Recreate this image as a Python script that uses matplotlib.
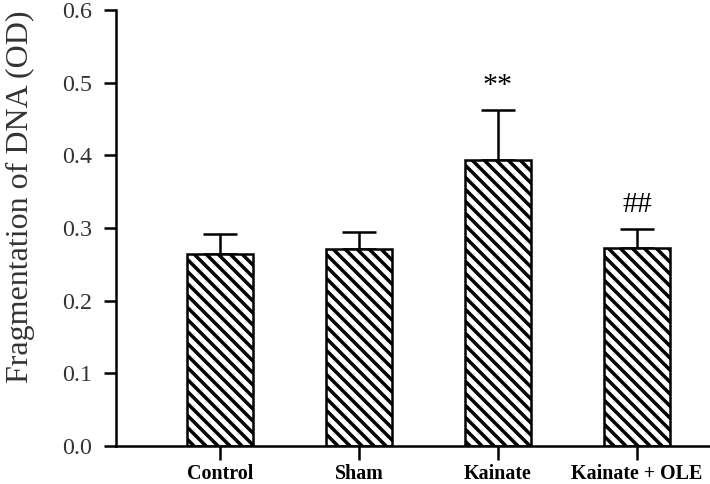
import matplotlib.pyplot as plt

groups = ["Control", "Sham", "Kainate", "Kainate + OLE"]
means = [0.264, 0.271, 0.393, 0.272]
sems = [0.028, 0.023, 0.069, 0.027]
marks = ["", "", "**", "##"]
y_ticks = [0.0, 0.1, 0.2, 0.3, 0.4, 0.5, 0.6]

DPI = 72
plt.rcParams['font.family'] = ['Liberation Serif', 'DejaVu Serif']
plt.rcParams['hatch.linewidth'] = 3.5

fig = plt.figure(figsize=(710 / DPI, 484 / DPI), dpi=DPI)
ax = fig.add_axes([116 / 710, 38 / 484, 1 - 116 / 710, 436 / 484])

x = list(range(len(groups)))
ax.errorbar(x, means, yerr=[[0] * len(sems), sems], fmt='none', ecolor='black',
            elinewidth=2.5, capsize=17, capthick=2.5, zorder=1)
ax.bar(x, means, width=0.48, color='white', edgecolor='black', linewidth=2.5,
       hatch='\\\\', zorder=2)

for xi, m, s, t in zip(x, means, sems, marks):
    if t:
        ax.annotate(t, (xi, m + s), xytext=(0, 11), textcoords='offset points',
                    ha='center', va='bottom', fontsize=30)

ax.set_xlim(-0.748, 3.525)
ax.set_ylim(0, 0.6)
ax.set_yticks(y_ticks)
ax.set_yticklabels(["%.1f" % v for v in y_ticks])
ax.set_xticks(x)
ax.set_xticklabels(groups, fontweight='bold', fontsize=20)
ax.set_ylabel("Fragmentation of DNA (OD)", fontsize=32, color='#333333')
ax.yaxis.set_label_coords(-0.137, 0.571)

for side in ['top', 'right']:
    ax.spines[side].set_visible(False)
ax.spines['left'].set_linewidth(2.5)
ax.spines['bottom'].set_linewidth(2.5)
ax.spines['left'].set_bounds(0, 0.6)
ax.tick_params(axis='y', length=12, width=2.5, pad=12, labelsize=24, labelcolor='#333333')
ax.tick_params(axis='x', length=14, width=2.5, pad=4)

fig.savefig('out.png', dpi=DPI)
